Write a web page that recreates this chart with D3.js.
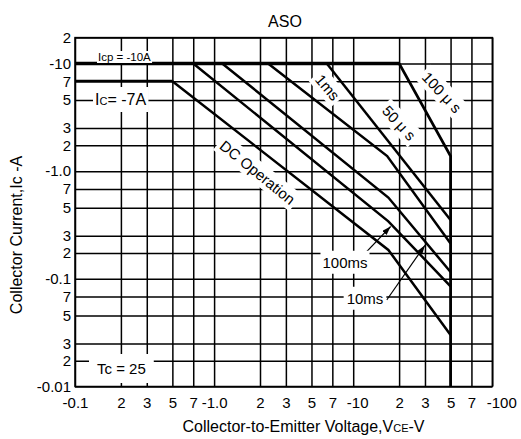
<!DOCTYPE html>
<html>
<head>
<meta charset="utf-8">
<script src="https://cdn.jsdelivr.net/npm/d3@7"></script>
<style>
	body { margin: 0; background: #fff; }
	svg { display: block; font-family: "Liberation Sans", Arial, sans-serif; }
	.axis .domain { display: none; }
	.axis line { stroke: #000; stroke-width: 1.5; }
	.axis text { font-size: 15px; fill: #000; font-family: "Liberation Sans", Arial, sans-serif; }
</style>
</head>
<body>
<svg></svg>
<script>
// tick values + the printed labels (sign shown only on decades, like the datasheet)
const xTicks = [0.1, 0.2, 0.3, 0.5, 0.7, 1, 2, 3, 5, 7, 10, 20, 30, 50, 70, 100];
const xTickLabels = ["-0.1", "2", "3", "5", "7", "-1.0", "2", "3", "5", "7", "-10", "2", "3", "5", "7", "-100"];
const yTicks = [0.01, 0.02, 0.03, 0.05, 0.07, 0.1, 0.2, 0.3, 0.5, 0.7, 1, 2, 3, 5, 7, 10, 20];
const yTickLabels = ["-0.01", "2", "3", "5", "7", "-0.1", "2", "3", "5", "7", "-1.0", "2", "3", "5", "7", "-10", "2"];

// limit curves, [ -Vce (V), -Ic (A) ]
const icpLimit = [[0.1, 10], [20, 10]];
const icLimit = [[0.1, 7], [0.5, 7]];
const dcOperation = [[0.5, 7], [17, 0.215], [50, 0.035]];
const ms100 = [[0.7, 10], [17, 0.39], [50, 0.086]];
const ms10 = [[1.13, 10], [17, 0.6], [50, 0.12]];
const ms1 = [[2.27, 10], [16.7, 1.5], [50, 0.25]];
const us50 = [[6.4, 10], [50, 0.4]];
const us100 = [[20, 10], [50, 1.5], [50, 0.01]];

// arrow targets on the 100ms / 10ms curves
const arrow100ms = [17.6, 0.355];
const arrow10ms = [30, 0.24];

// the printed grid is not a perfect log grid: where 1,2,3,5,7 sit inside a decade
const mantissas = [1, 2, 3, 5, 7];
const xMantissaPos = [0, 0.33, 0.516, 0.70, 0.85];
const yMantissaPos = [0, 0.24, 0.40, 0.66, 0.835];

const margins = { t: 37.6, l: 75 };
const size = { w: 417.3, h: 348.9 };

const svg = d3.select("svg").attr("width", 521).attr("height", 439);
const containerG = svg.append("g").attr("transform", `translate(${margins.l}, ${margins.t})`);

function knots(start, max, pos) {
	let dom = [], rng = [];
	for (let i = 0; ; i++) {
		const base = start * 10 ** i;
		mantissas.forEach((m, j) => {
			const v = +(m * base).toPrecision(6);
			if (v <= max * 1.0001) { dom.push(v); rng.push(i + pos[j]); }
		});
		if (base * 10 > max) break;
	}
	return { dom, rng };
}

const kx = knots(0.1, 100, xMantissaPos);
const ky = knots(0.01, 20, yMantissaPos);
const xDecade = size.w / kx.rng[kx.rng.length - 1];
const yDecade = size.h / ky.rng[ky.rng.length - 1];

const scaleX = d3.scaleLog().domain(kx.dom).range(kx.rng.map((r) => r * xDecade));
const scaleY = d3.scaleLog().domain(ky.dom).range(ky.rng.map((r) => size.h - r * yDecade));

// grid + tick labels
const axisX = d3.axisBottom(scaleX)
	.tickValues(xTicks)
	.tickFormat((d) => xTickLabels[xTicks.indexOf(d)])
	.tickSize(-size.h)
	.tickPadding(11);
const axisXG = containerG.append("g")
	.attr("class", "axis")
	.attr("transform", `translate(0, ${size.h})`)
	.call(axisX);
axisXG.selectAll("text").attr("dx", (d) => (d == 100 ? 9 : d == 10 ? 4 : 0));

const axisY = d3.axisLeft(scaleY)
	.tickValues(yTicks)
	.tickFormat((d) => yTickLabels[yTicks.indexOf(d)])
	.tickSize(-size.w)
	.tickPadding(4);
containerG.append("g").attr("class", "axis").call(axisY);

containerG.append("rect")
	.attr("width", size.w)
	.attr("height", size.h)
	.attr("fill", "none")
	.attr("stroke", "#000")
	.attr("stroke-width", 1.5);

// curves
const line = d3.line().x((d) => scaleX(d[0])).y((d) => scaleY(d[1]));
function curve(data, w) {
	containerG.append("path")
		.datum(data)
		.attr("d", line)
		.attr("fill", "none")
		.attr("stroke", "#000")
		.attr("stroke-width", w);
}
curve(icpLimit, 3.4);
curve(icLimit, 2.8);
[dcOperation, ms100, ms10, ms1, us50].forEach((c) => curve(c, 2.5));
curve(us100, 2.8);

// labels on a white box that cuts the grid, like the datasheet
function label(txt, x, y, opts = {}) {
	const g = svg.append("g")
		.attr("transform", `translate(${x}, ${y})` + (opts.rot ? ` rotate(${opts.rot})` : ""));
	const bg = g.append("rect").attr("fill", "#fff");
	const t = g.append("text")
		.attr("text-anchor", opts.anchor || "middle")
		.attr("dy", opts.dy != null ? opts.dy : "0.35em")
		.attr("font-size", opts.size || 15)
		.text(txt);
	(opts.parts || []).forEach((p) => {
		const s = t.append("tspan").text(p[0]);
		if (p[1]) s.attr("font-size", p[1]);
	});
	const b = t.node().getBBox();
	const px = opts.padX != null ? opts.padX : 3;
	const py = opts.padY != null ? opts.padY : 2;
	bg.attr("x", b.x - px)
		.attr("y", b.y - py)
		.attr("width", b.width + 2 * px)
		.attr("height", b.height + 2 * py);
	return g;
}

// arrows to 100ms / 10ms
svg.append("defs").append("marker")
	.attr("id", "head")
	.attr("markerUnits", "userSpaceOnUse")
	.attr("markerWidth", 10)
	.attr("markerHeight", 8)
	.attr("refX", 9)
	.attr("refY", 3)
	.attr("orient", "auto")
	.append("path")
	.attr("d", "M0,0L9,3L0,6Z")
	.attr("fill", "#000");

function arrow(x0, y0, target) {
	svg.append("line")
		.attr("x1", x0)
		.attr("y1", y0)
		.attr("x2", margins.l + scaleX(target[0]))
		.attr("y2", margins.t + scaleY(target[1]))
		.attr("stroke", "#000")
		.attr("stroke-width", 1.2)
		.attr("marker-end", "url(#head)");
}

label("Icp = -10A", 98, 61, { anchor: "start", dy: 0, size: 11.5, padX: 1, padY: 0 });
label("I", 95, 105, { anchor: "start", dy: 0, size: 16, padX: 2, padY: 4, parts: [["C", 11], ["= -7A"]] });
label("Tc = 25", 97, 374, { anchor: "start", dy: 0, size: 15, padX: 8, padY: 6 });

label("DC Operation", 257.5, 172.5, { rot: 39 });
label("1ms", 327.5, 87.5, { rot: 50 });
label("50 μ s", 399, 123, { rot: 47 });
label("100 μ s", 441.7, 92.5, { rot: 47 });

arrow(365, 253.3, arrow100ms);
arrow(386.7, 300, arrow10ms);
label("100ms", 345, 262.5, { padX: 2, padY: 3 });
label("10ms", 365, 298.5, { padX: 3, padY: 3 });

// titles
svg.append("text")
	.attr("x", 285)
	.attr("y", 27)
	.attr("text-anchor", "middle")
	.attr("font-size", 16)
	.text("ASO");

const xTitle = svg.append("text")
	.attr("x", 303.5)
	.attr("y", 432)
	.attr("text-anchor", "middle")
	.attr("font-size", 16)
	.text("Collector-to-Emitter Voltage,V");
xTitle.append("tspan").attr("font-size", 11).text("CE");
xTitle.append("tspan").text("-V");

svg.append("text")
	.attr("transform", "rotate(-90)")
	.attr("x", -235)
	.attr("y", 22)
	.attr("text-anchor", "middle")
	.attr("font-size", 16)
	.text("Collector Current,Ic -A");
</script>
</body>
</html>
